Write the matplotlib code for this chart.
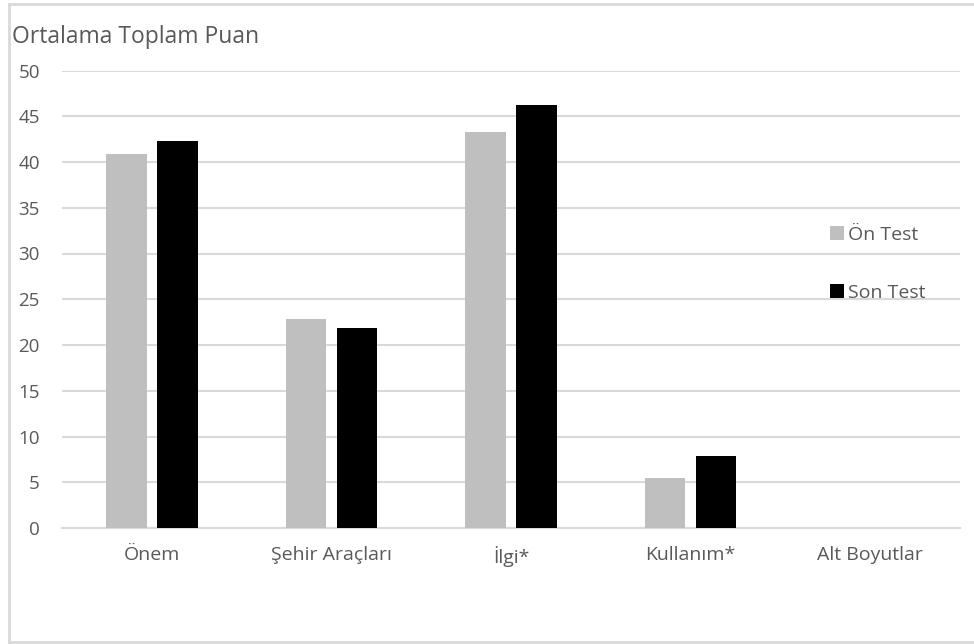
import matplotlib.pyplot as plt
from matplotlib.patches import Patch
from matplotlib.lines import Line2D
import numpy as np

categories = ['Önem', 'Şehir Araçları', 'İlgi*', 'Kullanım*', 'Alt Boyutlar']
on_test = [40.9, 22.8, 43.3, 5.5, np.nan]
son_test = [42.3, 21.9, 46.2, 7.9, np.nan]
yticks = [0, 5, 10, 15, 20, 25, 30, 35, 40, 45, 50]

text_color = '#595959'
grid_color = '#d9d9d9'
gray = '#bfbfbf'

plt.rcParams['font.family'] = ['Open Sans', 'DejaVu Sans']

fig = plt.figure(figsize=(9.74, 6.44), dpi=100)
ax = fig.add_axes([62 / 974, 1 - 528 / 644, 898 / 974, (528 - 70.5) / 644])

x = np.arange(len(categories))
w = 0.225
ax.bar(x - 0.142, on_test, width=w, color=gray, zorder=3)
ax.bar(x + 0.142, son_test, width=w, color='black', zorder=3)

ax.set_xlim(-0.5, len(categories) - 0.5)
ax.set_ylim(0, 50)
ax.set_yticks(yticks)
ax.grid(axis='y', color=grid_color, linewidth=1.5, zorder=0)
ax.set_axisbelow(True)
for s in ['top', 'right', 'left']:
    ax.spines[s].set_visible(False)
ax.spines['bottom'].set_color(grid_color)
ax.spines['bottom'].set_linewidth(1.5)

ax.set_xticks(x)
ax.set_xticklabels(categories)
ax.tick_params(axis='x', length=0, pad=13, labelsize=14, labelcolor=text_color)
ax.tick_params(axis='y', length=0, pad=16, labelsize=13.5, labelcolor=text_color)

fig.text(12 / 974, 1 - 37 / 644, 'Ortalama Toplam Puan', fontsize=16.5,
         color=text_color, va='center', ha='left')

handles = [Patch(facecolor=gray, label='Ön Test'),
           Patch(facecolor='black', label='Son Test')]
ax.legend(handles=handles, loc='upper left',
          bbox_to_anchor=(830 / 974, 1 - 226 / 644),
          bbox_transform=fig.transFigure, frameon=False, fontsize=14,
          handlelength=0.7, handleheight=0.7, handletextpad=0.25,
          labelspacing=2.05, borderpad=0, borderaxespad=0,
          labelcolor=text_color)

# outer chart frame
frame = dict(color=grid_color, linewidth=2, transform=fig.transFigure)
fig.add_artist(Line2D([9 / 974, 1], [1 - 4 / 644, 1 - 4 / 644], **frame))
fig.add_artist(Line2D([9 / 974, 9 / 974], [1 - 4 / 644, 1 - 642 / 644], **frame))
fig.add_artist(Line2D([9 / 974, 1], [1 - 642 / 644, 1 - 642 / 644], **frame))

fig.savefig('out.png', dpi=100)
